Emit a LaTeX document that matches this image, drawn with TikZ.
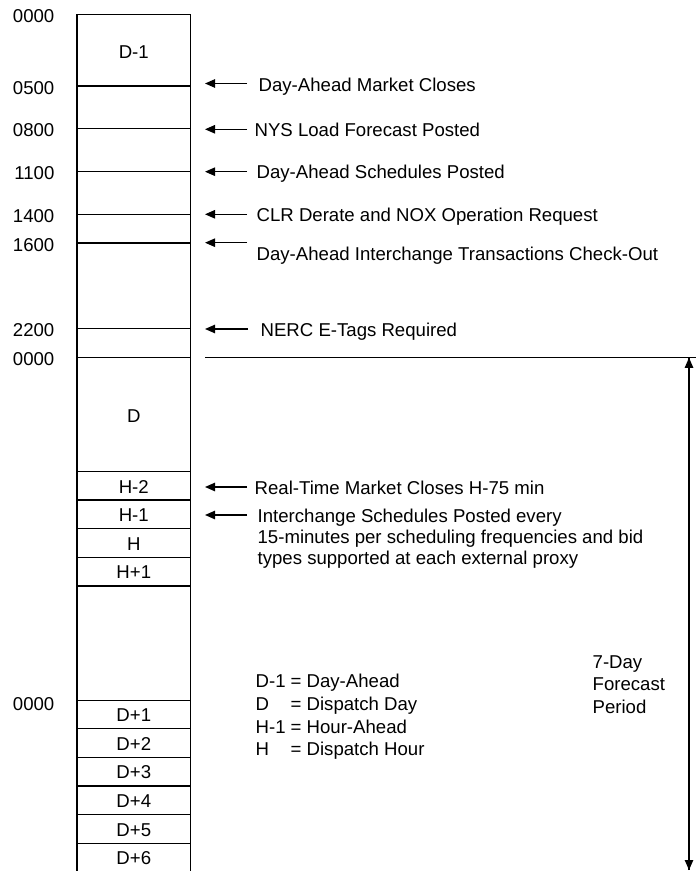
\documentclass[tikz,border=0pt]{standalone}
\usepackage{fontspec}
\setmainfont{Liberation Sans}
\usetikzlibrary{arrows.meta}

\begin{document}
\begin{tikzpicture}[x=0.5pt,y=-0.5pt,line width=0.65pt,
  every node/.style={font=\fontsize{9.3}{10.5}\selectfont,inner sep=0pt,text height=0.716em,text depth=0pt},
  time/.style={anchor=east},
  note/.style={anchor=west},
  pointer/.style={-{Triangle[length=5pt,width=4.2pt]}}]
  \useasboundingbox (0,0) rectangle (696,871);

  % time column
  \coordinate (TL) at (77,14.3);
  \coordinate (TR) at (190.7,14.3);
  \coordinate (BL) at (77,871);
  \coordinate (BR) at (190.7,871);
  \draw (BL) -- (TL) -- (TR) -- (BR);
  \foreach \y in {86,128.7,171.4,214.3,243,328.7,357.3,471.7,500,528.7,557.3,586,700.3,728.7,757.3,786,814.7,843.3}
    \draw (77,\y) -- (190.7,\y);

  % hours
  \node[time] (h0000) at (55,15.5) {0000};
  \node[time] (h0500) at (55,87) {0500};
  \node[time] (h0800) at (55,129.5) {0800};
  \node[time] (h1100) at (55,172) {1100};
  \node[time] (h1400) at (55,215) {1400};
  \node[time] (h1600) at (55,244) {1600};
  \node[time] (h2200) at (55,329.5) {2200};
  \node[time] (d0000) at (55,358) {0000};
  \node[time] (n0000) at (55,703) {0000};

  % cells
  \node (dminus) at (133.8,51.7) {D-1};
  \node (dday) at (133.8,415) {D};
  \node (hm2) at (133.8,486) {H-2};
  \node (hm1) at (133.8,514.5) {H-1};
  \node (hh) at (133.8,543) {H};
  \node (hp1) at (133.8,571.5) {H+1};
  \node (dp1) at (133.8,714.5) {D+1};
  \node (dp2) at (133.8,743) {D+2};
  \node (dp3) at (133.8,771.5) {D+3};
  \node (dp4) at (133.8,800.3) {D+4};
  \node (dp5) at (133.8,829) {D+5};
  \node (dp6) at (133.8,857) {D+6};

  % events
  \node[note] (dam) at (258,84) {Day-Ahead Market Closes};
  \node[note] (nys) at (254,129.3) {NYS Load Forecast Posted};
  \node[note] (das) at (256,171.7) {Day-Ahead Schedules Posted};
  \node[note] (clr) at (256,214.3) {CLR Derate and NOX Operation Request};
  \node[note] (dai) at (256,253.3) {Day-Ahead Interchange Transactions Check-Out};
  \node[note] (nerc) at (260,329) {NERC E-Tags Required};
  \node[note] (rtm) at (254,487) {Real-Time Market Closes H-75 min};
  \node[note] (isp) at (257,515) {Interchange Schedules Posted every};
  \node[note] (isp2) at (257,536) {15-minutes per scheduling frequencies and bid};
  \node[note] (isp3) at (257,557) {types supported at each external proxy};

  \coordinate (dam-a) at (247,83.5);   \coordinate (dam-b) at (205,83.5);
  \coordinate (nys-a) at (247,129.3);  \coordinate (nys-b) at (205,129.3);
  \coordinate (das-a) at (247,171.7);  \coordinate (das-b) at (205,171.7);
  \coordinate (clr-a) at (247,214.3);  \coordinate (clr-b) at (205,214.3);
  \coordinate (dai-a) at (247,242.7);  \coordinate (dai-b) at (205,242.7);
  \coordinate (nerc-a) at (248,329);   \coordinate (nerc-b) at (205,329);
  \coordinate (rtm-a) at (247,487);    \coordinate (rtm-b) at (205,487);
  \coordinate (isp-a) at (247,515);    \coordinate (isp-b) at (205,515);
  \draw[pointer] (dam-a) -- (dam-b);
  \draw[pointer] (nys-a) -- (nys-b);
  \draw[pointer] (das-a) -- (das-b);
  \draw[pointer] (clr-a) -- (clr-b);
  \draw[pointer] (dai-a) -- (dai-b);
  \draw[pointer] (nerc-a) -- (nerc-b);
  \draw[pointer] (rtm-a) -- (rtm-b);
  \draw[pointer] (isp-a) -- (isp-b);

  % legend
  \node[note] (kd1) at (255,680) {D-1};
  \node[note] (kd) at (255,703.3) {D};
  \node[note] (kh1) at (255,726.7) {H-1};
  \node[note] (kh) at (255,748.3) {H};
  \node[note] (vd1) at (290,680) {= Day-Ahead};
  \node[note] (vd) at (290,703.3) {= Dispatch Day};
  \node[note] (vh1) at (290,726.7) {= Hour-Ahead};
  \node[note] (vh) at (290,748.3) {= Dispatch Hour};

  % forecast period
  \coordinate (fl-a) at (205,357.3);
  \coordinate (fl-b) at (696,357.3);
  \draw (fl-a) -- (fl-b);
  \coordinate (fp-top) at (689,357.8);
  \coordinate (fp-bot) at (689,870);
  \draw[pointer] (fp-bot) -- (fp-top);
  \draw[pointer] (fp-top) -- (fp-bot);
  \node[note] (fc1) at (592,661.7) {7-Day};
  \node[note] (fc2) at (592,683.3) {Forecast};
  \node[note] (fc3) at (592,706.7) {Period};
\end{tikzpicture}
\end{document}
